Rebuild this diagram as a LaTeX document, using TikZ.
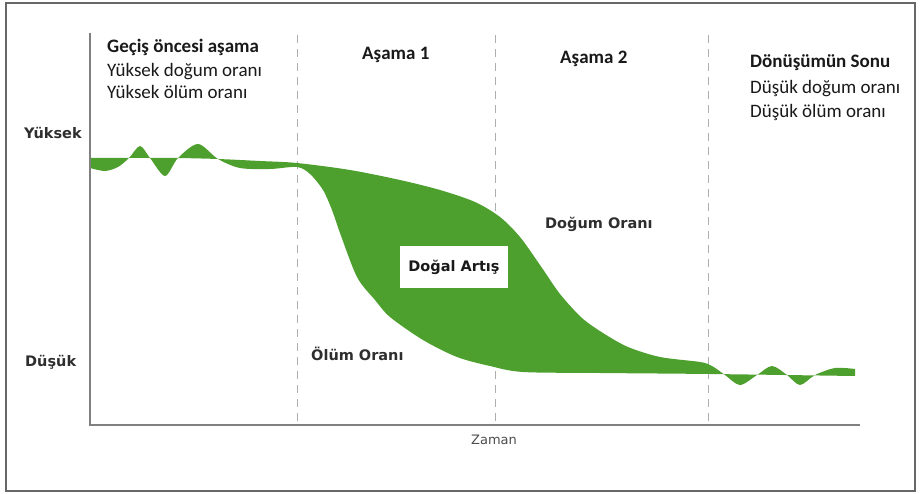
\documentclass[tikz,border=0pt]{standalone}
\usepackage{fontspec}
\setmainfont{Carlito}
\newfontfamily\labelfont{DejaVu Sans}
\usepackage{tikz}

\definecolor{rategreen}{RGB}{78,160,46}
\definecolor{axisgray}{RGB}{128,128,128}
\definecolor{dashgray}{RGB}{175,175,175}
\definecolor{textdark}{RGB}{25,25,25}

\begin{document}
\begin{tikzpicture}[x=1pt, y=-1pt,
            every node/.style = {inner sep=0pt, text=textdark},
            stagehead/.style = {anchor=base west, font=\fontsize{19}{22}\selectfont\bfseries},
            stagetext/.style = {anchor=base west, font=\fontsize{19}{22}\selectfont},
            ratelabel/.style = {anchor=base west, font=\labelfont\bfseries\fontsize{14.5}{17}\selectfont, text=black!82},
            stageline/.style = {draw=dashgray, line width=1pt, dash pattern=on 8pt off 6pt}]
  \useasboundingbox (0,0) rectangle (920,494);
  \draw[axisgray!80!black, line width=1.4pt] (6,3) rectangle (915,491);

  % stage boundaries
  \foreach \sx in {297,495,708}
    \draw[stageline] (\sx,35) -- (\sx,425);

  % birth and death rates
  \fill[rategreen]
    plot[smooth] coordinates {(90,158) (129,158) (150,158) (178,158) (218,159)
      (260,161) (297,163) (350,170) (400,180) (440,190) (475,202) (500,217)
      (520,237) (540,265) (560,294) (582,318) (603,333) (628,347) (660,357)
      (700,362) (712,366) (725,375) (740,385) (757,375) (772,366) (787,375)
      (800,385) (815,375) (835,368) (855,369)}
    -- plot[smooth] coordinates {(855,376) (710,374) (600,373) (523,372)
      (490,366) (457,357) (423,340) (390,317) (375,300) (357,277) (340,233)
      (332,210) (323,190) (310,174) (297,167) (270,169) (240,168) (218,159)
      (198,144) (178,158) (165,176) (150,158) (140,146) (129,158) (118,167)
      (105,171) (90,168)}
    -- cycle;

  % axes
  \coordinate (origin) at (90,425);
  \coordinate (ytop) at (90,33);
  \coordinate (xend) at (860,425);
  \draw[axisgray, line width=1.5pt] (ytop) -- (origin) -- (xend);

  \node[ratelabel] (high) at (24,139) {Yüksek};
  \node[ratelabel] (low) at (25,366) {Düşük};
  \node[anchor=base, font=\labelfont\fontsize{13}{15}\selectfont, text=black!70] (time) at (494,444) {Zaman};

  % stages
  \node[stagehead] (pre) at (107,53) {Geçiş öncesi aşama};
  \node[stagetext] (pre1) at (107,77) {Yüksek doğum oranı};
  \node[stagetext] (pre2) at (107,99) {Yüksek ölüm oranı};
  \node[stagehead] (st1) at (362,60) {Aşama 1};
  \node[stagehead] (st2) at (560,64) {Aşama 2};
  \node[stagehead] (post) at (750,68) {Dönüşümün Sonu};
  \node[stagetext] (post1) at (750,94) {Düşük doğum oranı};
  \node[stagetext] (post2) at (750,118) {Düşük ölüm oranı};

  % curve labels
  \node[ratelabel] (birth) at (545,229) {Doğum Oranı};
  \node[ratelabel] (death) at (311,360) {Ölüm Oranı};
  \node[fill=white, minimum width=108pt, minimum height=41pt,
        font=\labelfont\bfseries\fontsize{14.5}{17}\selectfont] (growth) at (454,267) {Doğal Artış};
\end{tikzpicture}
\end{document}
